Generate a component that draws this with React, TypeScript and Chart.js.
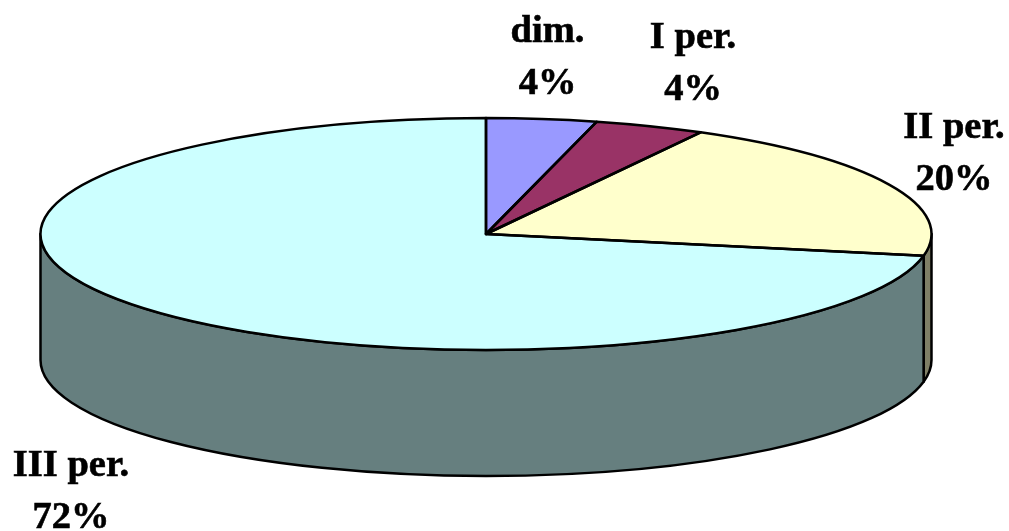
import { useEffect, useRef } from "react";
import { Chart, registerables } from "chart.js";

Chart.register(...registerables);

// Share of each period, in percent.
const categories = ["dim.", "I per.", "II per.", "III per."];
const shares = [4, 4, 20, 72];

const topColors = ["#9999FF", "#993366", "#FFFFCC", "#CCFFFF"];
const sideColors = ["#4C4C7F", "#4C1933", "#7F7F66", "#667F7F"];

// Label centre and first baseline for each category.
const labelCentres = [547.5, 693, 954, 71];
const labelBaselines = [42, 48, 138, 476];
const labelLineGap = 52;

const WIDTH = 1009;
const HEIGHT = 531;
const RADIUS_X = 445.5;
const RADIUS_Y = 116;
const DEPTH = 126;
const PEN = 2.5;

// Draws the wall of the disc below the visible front half of each slice.
const discWall = {
  id: "discWall",
  beforeDatasetsDraw(chart: any) {
    const { ctx } = chart;
    const arcs = chart.getDatasetMeta(0).data;
    arcs.forEach((arc: any, i: number) => {
      const start = Math.max(arc.startAngle, 0);
      const end = Math.min(arc.endAngle, Math.PI);
      if (end <= start) return;
      ctx.save();
      ctx.beginPath();
      ctx.ellipse(arc.x, arc.y, RADIUS_X, RADIUS_Y, 0, start, end);
      ctx.ellipse(arc.x, arc.y + DEPTH, RADIUS_X, RADIUS_Y, 0, end, start, true);
      ctx.closePath();
      ctx.fillStyle = sideColors[i];
      ctx.fill();
      ctx.strokeStyle = "#000";
      ctx.lineWidth = PEN;
      ctx.lineJoin = "round";
      ctx.stroke();
      ctx.restore();
    });
  },
};

// Squashes the library's circular slices into the tilted ellipse.
const tiltedTop = {
  id: "tiltedTop",
  beforeDatasetsDraw(chart: any) {
    const { ctx } = chart;
    const arc = chart.getDatasetMeta(0).data[0];
    ctx.save();
    ctx.translate(arc.x, arc.y);
    ctx.scale(1, RADIUS_Y / RADIUS_X);
    ctx.translate(-arc.x, -arc.y);
  },
  afterDatasetsDraw(chart: any) {
    const { ctx } = chart;
    ctx.restore();
    // Outlines go on after the transform is gone so the pen stays even.
    chart.getDatasetMeta(0).data.forEach((arc: any) => {
      ctx.save();
      ctx.beginPath();
      ctx.moveTo(arc.x, arc.y);
      ctx.ellipse(arc.x, arc.y, RADIUS_X, RADIUS_Y, 0, arc.startAngle, arc.endAngle);
      ctx.closePath();
      ctx.strokeStyle = "#000";
      ctx.lineWidth = PEN;
      ctx.lineJoin = "round";
      ctx.stroke();
      ctx.restore();
    });
  },
};

// Writes the two-line category and percentage labels.
const sliceLabels = {
  id: "sliceLabels",
  afterDraw(chart: any) {
    const { ctx } = chart;
    ctx.save();
    ctx.font = 'bold 38.5px "Liberation Serif"';
    ctx.fillStyle = "#000";
    ctx.strokeStyle = "#000";
    ctx.lineWidth = 0.6;
    ctx.textAlign = "center";
    ctx.textBaseline = "alphabetic";
    const put = (text: string, x: number, y: number) => {
      ctx.fillText(text, x, y);
      ctx.strokeText(text, x, y);
    };
    categories.forEach((name, i) => {
      put(name, labelCentres[i], labelBaselines[i]);
      put(`${shares[i]}%`, labelCentres[i], labelBaselines[i] + labelLineGap);
    });
    ctx.restore();
  },
};

export default function App() {
  const ref = useRef<HTMLCanvasElement>(null);

  useEffect(() => {
    const chart = new Chart(ref.current!, {
      type: "pie",
      data: {
        labels: categories,
        datasets: [
          {
            data: shares,
            backgroundColor: topColors,
            borderWidth: 0,
            clip: false,
          } as any,
        ],
      },
      options: {
        animation: false,
        responsive: false,
        radius: RADIUS_X,
        layout: { padding: { right: 37, bottom: 63 } },
        plugins: { legend: { display: false }, tooltip: { enabled: false } },
      } as any,
      plugins: [discWall, tiltedTop, sliceLabels],
    });
    return () => chart.destroy();
  }, []);

  return (
    <canvas
      ref={ref}
      width={WIDTH}
      height={HEIGHT}
      style={{ position: "absolute", left: 0, top: 0, width: WIDTH, height: HEIGHT, background: "#fff" }}
    />
  );
}
